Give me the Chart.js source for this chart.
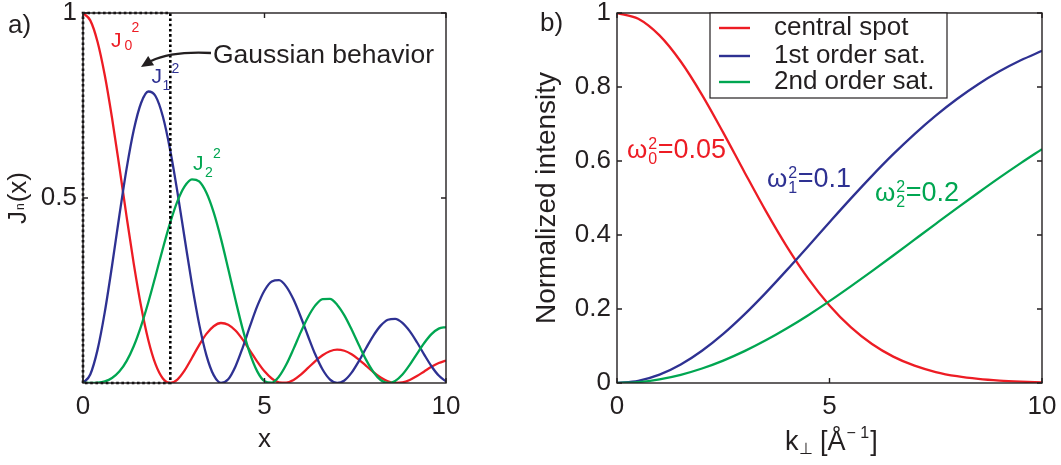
<!DOCTYPE html>
<html><head><meta charset="utf-8">
<script src="https://cdn.jsdelivr.net/npm/chart.js@4/dist/chart.umd.min.js"></script>
<style>
html,body{margin:0;padding:0;background:#fff;}
#wrap{position:relative;width:1061px;height:465px;overflow:hidden;background:#fff;}
canvas{position:absolute;top:0;}
#ca{left:0;}
#cb{left:530px;}
</style></head><body>
<div id="wrap">
<canvas id="ca" width="530" height="465"></canvas>
<canvas id="cb" width="531" height="465"></canvas>
</div>
<script>
// ---------- Panel a) data (read from the figure) ----------
const xA = [0,0.2,0.4,0.6,0.8,1,1.2,1.4,1.6,1.8,2,2.2,2.4,2.6,2.8,3,3.2,3.4,3.6,3.8,4,4.2,4.4,4.6,4.8,5,5.2,5.4,5.6,5.8,6,6.2,6.4,6.6,6.8,7,7.2,7.4,7.6,7.8,8,8.2,8.4,8.6,8.8,9,9.2,9.4,9.6,9.8,10];
const j0sq = [1,0.9801,0.9224,0.8317,0.7162,0.5855,0.4504,0.3214,0.2074,0.1156,0.0501,0.0122,0.0000,0.0094,0.0342,0.0677,0.1025,0.1327,0.1535,0.1621,0.1577,0.1418,0.1172,0.0877,0.0578,0.0315,0.0122,0.0017,0.0007,0.0084,0.0227,0.0407,0.0592,0.0751,0.0859,0.0901,0.0871,0.0776,0.0633,0.0464,0.0295,0.0149,0.0048,0.0002,0.0015,0.0082,0.0187,0.0313,0.0437,0.0540,0.0605];
const j1sq = [0,0.0231,0.0895,0.1915,0.3169,0.4513,0.5786,0.6842,0.7568,0.7878,0.7749,0.7203,0.6305,0.5165,0.3911,0.2679,0.1591,0.0748,0.0213,0.0004,0.0101,0.0448,0.0958,0.1534,0.2076,0.2501,0.2744,0.2778,0.2604,0.2254,0.1784,0.1264,0.0768,0.0364,0.0099,0.0001,0.0069,0.0280,0.0591,0.0945,0.1282,0.1551,0.1709,0.1734,0.1625,0.1402,0.1101,0.0768,0.0453,0.0201,0.0044];
const j2sq = [0,0.0001,0.0009,0.0044,0.0134,0.0308,0.0592,0.1001,0.1539,0.2183,0.2900,0.3637,0.4328,0.4909,0.5315,0.5506,0.5447,0.5140,0.4610,0.3903,0.3089,0.2248,0.1457,0.0793,0.0314,0.0051,0.0011,0.0175,0.0499,0.0922,0.1375,0.1785,0.2098,0.2267,0.2272,0.2117,0.1827,0.1445,0.1025,0.0625,0.0298,0.0082,0.0001,0.0056,0.0229,0.0489,0.0789,0.1081,0.1321,0.1470,0.1510];
const boxX = [0,0,2.405,2.405,0];
const boxY = [0,1,1,0,0];
const xTicksA = [0,5,10];
const yTicksA = [0.5,1];

// ---------- Panel b) data (read from the figure) ----------
const kB = [0,0.5,1,1.5,2,2.5,3,3.5,4,4.5,5,5.5,6,6.5,7,7.5,8,8.5,9,9.5,10];
const central = [1,0.9845,0.9394,0.8688,0.7788,0.6767,0.5698,0.4651,0.3679,0.2821,0.2096,0.1510,0.1054,0.0713,0.0468,0.0297,0.0183,0.0109,0.0063,0.0036,0.0019];
const firstOrder = [0,0.0057,0.0225,0.0500,0.0872,0.1328,0.1855,0.2437,0.3057,0.3698,0.4345,0.4983,0.5599,0.6184,0.6728,0.7227,0.7676,0.8075,0.8423,0.8722,0.8977];
const secondOrder = [0,0.0025,0.0100,0.0222,0.0392,0.0606,0.0861,0.1153,0.1479,0.1833,0.2212,0.2612,0.3023,0.3445,0.3874,0.4302,0.4727,0.5143,0.5551,0.5943,0.6321];
const xTicksB = [0,5,10];
const yTicksB = [0,0.2,0.4,0.6,0.8,1];
const legendLabels = ['central spot','1st order sat.','2nd order sat.'];

// ---------- styling ----------
const INK = '#231f20';
const RED = '#ed1c24', BLUE = '#2e3192', GREEN = '#00a651';
const FONT = '"Liberation Sans", Arial, Helvetica, sans-serif';

function pts(xs, ys){ return xs.map((x,i)=>({x:x, y:ys[i]})); }
function curve(label, xs, ys, color, order){
  return {label, data:pts(xs,ys), borderColor:color, backgroundColor:color, borderWidth:2.3,
          pointRadius:0, fill:false, cubicInterpolationMode:'monotone', order};
}
function txt(ctx, s, x, y, size, color, align, base){
  ctx.font = size + 'px ' + FONT; ctx.fillStyle = color;
  ctx.textAlign = align || 'left'; ctx.textBaseline = base || 'alphabetic';
  ctx.fillText(s, x, y); return ctx.measureText(s).width;
}
function frameTicks(chart){
  const {ctx, chartArea:a, scales} = chart; const x = scales.x, y = scales.y;
  ctx.save(); ctx.strokeStyle = INK; ctx.lineWidth = 1.4;
  ctx.strokeRect(a.left, a.top, a.right-a.left, a.bottom-a.top);
  ctx.beginPath(); const L = 5;
  x.ticks.forEach(t=>{ const p = x.getPixelForValue(t.value);
    ctx.moveTo(p,a.bottom); ctx.lineTo(p,a.bottom-L); ctx.moveTo(p,a.top); ctx.lineTo(p,a.top+L); });
  y.ticks.forEach(t=>{ const p = y.getPixelForValue(t.value);
    ctx.moveTo(a.left,p); ctx.lineTo(a.left+L,p); ctx.moveTo(a.right,p); ctx.lineTo(a.right-L,p); });
  ctx.stroke(); ctx.restore();
}
function axisX(ticksArr, height){
  return {type:'linear', min:0, max:10,
    afterBuildTicks:s=>{ s.ticks = ticksArr.map(v=>({value:v})); },
    afterFit:s=>{ s.height = height; s.paddingLeft = 0; s.paddingRight = 0; },
    grid:{display:false, drawTicks:false}, border:{display:false},
    ticks:{font:{family:FONT,size:26}, color:INK, padding:8, maxRotation:0, autoSkip:false, callback:v=>String(v)}};
}
function axisY(ticksArr, width){
  return {type:'linear', min:0, max:1,
    afterBuildTicks:s=>{ s.ticks = ticksArr.map(v=>({value:v})); },
    afterFit:s=>{ s.width = width; s.paddingTop = 0; s.paddingBottom = 0; },
    grid:{display:false, drawTicks:false}, border:{display:false},
    ticks:{font:{family:FONT,size:26}, color:INK, padding:6, autoSkip:false, callback:v=>String(v)}};
}

// ---------- Chart a) ----------
const xScaleA = axisX(xTicksA, 82);
xScaleA.title = {display:true, text:'x', font:{family:FONT,size:26}, color:INK, padding:{top:0,bottom:10}};

const annotA = {
  id:'annotA',
  afterDatasetsDraw(chart){ frameTicks(chart); },
  afterDraw(chart){
    const ctx = chart.ctx; ctx.save();
    txt(ctx, 'a)', 8, 33, 26, INK);
    // y title J_n(x), rotated
    ctx.save(); ctx.translate(26, 224); ctx.rotate(-Math.PI/2);
    let w = txt(ctx, 'J', 0, 0, 26, INK);
    let w2 = txt(ctx, 'n', w+1, -2, 12, INK);
    txt(ctx, '(x)', w + w2 + 2, 0, 26, INK);
    ctx.restore();
    // curve labels
    txt(ctx, 'J', 111, 47, 21, RED); txt(ctx, '0', 124.5, 50, 14, RED); txt(ctx, '2', 131.5, 32, 14, RED);
    txt(ctx, 'J', 151.5, 83, 21, BLUE); txt(ctx, '1', 162.5, 90, 14, BLUE); txt(ctx, '2', 171.5, 73, 14, BLUE);
    txt(ctx, 'J', 193, 170, 21, GREEN); txt(ctx, '2', 205, 177, 14, GREEN); txt(ctx, '2', 213, 158, 14, GREEN);
    // Gaussian behavior + arrow
    txt(ctx, 'Gaussian behavior', 213, 63, 26.5, INK);
    ctx.strokeStyle = INK; ctx.fillStyle = INK; ctx.lineWidth = 2.3;
    ctx.beginPath(); ctx.moveTo(211, 53); ctx.quadraticCurveTo(172, 51, 151, 61); ctx.stroke();
    const tipX = 141, tipY = 67, ang = Math.atan2(67-60, 141-152);
    const hl = 12, hw = 5.5;
    const bx = tipX - hl*Math.cos(ang), by = tipY - hl*Math.sin(ang);
    ctx.beginPath(); ctx.moveTo(tipX, tipY);
    ctx.lineTo(bx + hw*Math.sin(ang), by - hw*Math.cos(ang));
    ctx.lineTo(bx - hw*Math.sin(ang), by + hw*Math.cos(ang));
    ctx.closePath(); ctx.fill();
    ctx.restore();
  }
};

new Chart(document.getElementById('ca'), {
  type:'line',
  data:{datasets:[
    {label:'Gaussian region', data:pts(boxX, boxY), borderColor:'#000', borderWidth:2.6, borderDash:[2.6,2.6],
     pointRadius:0, fill:false, tension:0, cubicInterpolationMode:'default', order:0, clip:4},
    curve('J2²', xA, j2sq, GREEN, 1),
    curve('J1²', xA, j1sq, BLUE, 2),
    curve('J0²', xA, j0sq, RED, 3)
  ]},
  options:{
    responsive:false, animation:false, devicePixelRatio:1,
    layout:{padding:{left:0, top:13, right:84, bottom:0}},
    plugins:{legend:{display:false}, tooltip:{enabled:false}},
    scales:{x:xScaleA, y:axisY(yTicksA, 83)}
  },
  plugins:[annotA]
});

// ---------- Chart b) ----------
const yScaleB = axisY(yTicksB, 87);
yScaleB.title = {display:true, text:'Normalized intensity', font:{family:FONT,size:28}, color:INK, padding:{top:0,bottom:0}};

function omegaLabel(ctx, x, base, sub, rest, color){
  let w = txt(ctx, 'ω', x, base, 26, color);
  let a = txt(ctx, '2', x + w + 1, base - 9, 16, color);
  let b = txt(ctx, sub, x + w + 1, base + 6, 16, color);
  txt(ctx, rest, x + w + 1 + Math.max(a,b) + 0.5, base, 27, color);
}

const annotB = {
  id:'annotB',
  afterDatasetsDraw(chart){ frameTicks(chart); },
  afterDraw(chart){
    const ctx = chart.ctx; ctx.save();
    txt(ctx, 'b)', 10, 31, 26, INK);
    // legend box
    const ds = chart.data.datasets;
    ctx.fillStyle = '#fff'; ctx.fillRect(180, 13, 237, 85);
    ctx.strokeStyle = INK; ctx.lineWidth = 1.2; ctx.strokeRect(180, 13, 237, 85);
    const rows = [28, 56, 82];
    legendLabels.forEach((lab,i)=>{
      ctx.strokeStyle = ds[i].borderColor; ctx.lineWidth = 2.4;
      ctx.beginPath(); ctx.moveTo(189, rows[i]); ctx.lineTo(220, rows[i]); ctx.stroke();
      txt(ctx, lab, 244, rows[i], 26, INK, 'left', 'middle');
    });
    // omega labels
    omegaLabel(ctx, 97, 158, '0', '=0.05', RED);
    omegaLabel(ctx, 237, 187, '1', '=0.1', BLUE);
    omegaLabel(ctx, 345, 201, '2', '=0.2', GREEN);
    // x axis title k_perp [Å^-1]
    let x = 255, base = 450;
    x += txt(ctx, 'k', x, base, 27, INK);
    x += txt(ctx, '⊥', x, base + 4, 16, INK);
    x += txt(ctx, ' [Å', x, base, 27, INK);
    x += txt(ctx, '− 1', x + 1, base - 12, 16, INK) + 2;
    txt(ctx, ']', x, base, 27, INK);
    ctx.restore();
  }
};

new Chart(document.getElementById('cb'), {
  type:'line',
  data:{datasets:[
    curve(legendLabels[0], kB, central, RED, 3),
    curve(legendLabels[1], kB, firstOrder, BLUE, 2),
    curve(legendLabels[2], kB, secondOrder, GREEN, 1)
  ]},
  options:{
    responsive:false, animation:false, devicePixelRatio:1,
    layout:{padding:{left:0, top:13, right:19, bottom:0}},
    plugins:{legend:{display:false}, tooltip:{enabled:false}},
    scales:{x:axisX(xTicksB, 82), y:yScaleB}
  },
  plugins:[annotB]
});
</script>
</body></html>
